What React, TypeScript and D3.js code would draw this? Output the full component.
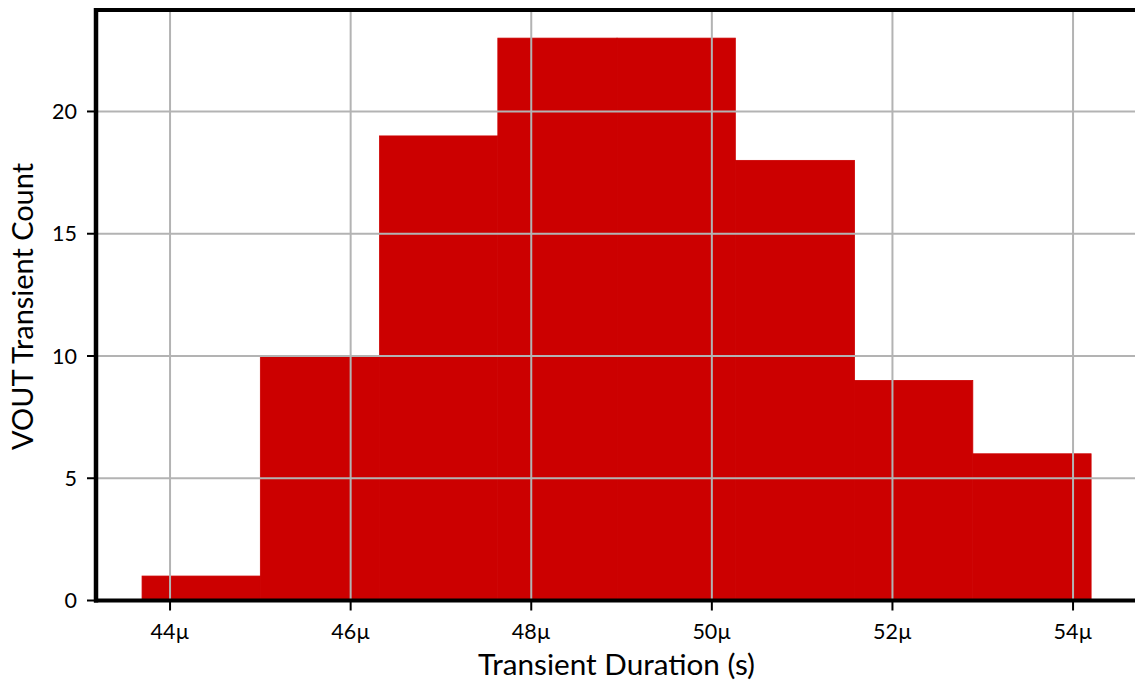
import React from "react";
import * as d3 from "d3";

const binEdges = [43.69, 45.0, 46.32, 47.63, 48.95, 50.26, 51.58, 52.89, 54.2];
const binCounts = [1, 10, 19, 23, 23, 18, 9, 6];
const xTicks = [44, 46, 48, 50, 52, 54];
const yTicks = [0, 5, 10, 15, 20];
const xLabel = "Transient Duration (s)";
const yLabel = "VOUT Transient Count";

const W = 1135;
const H = 686;
const FONT = "Lato, 'Noto Sans', sans-serif";

export default function App() {
  const left = 96, right = 1148, top = 10, bottom = 600.5;
  const x = d3.scaleLinear().domain([43.18, 54.83]).range([left, right]);
  const y = d3.scaleLinear().domain([0, 24.15]).range([bottom, top]);
  const bins = binCounts.map((c, i) => ({ x0: binEdges[i], x1: binEdges[i + 1], c }));
  const grid = "#b3b3b3";
  return (
    <svg width={W} height={H} style={{ position: "fixed", left: 0, top: 0, background: "#fff" }}>
      <rect x={0} y={0} width={W} height={H} fill="#fff" />
      {bins.map((b, i) => (
        <rect key={i} x={x(b.x0)} y={y(b.c)} width={x(b.x1) - x(b.x0)} height={y(0) - y(b.c)} fill="#cc0000" stroke="#cc0000" strokeWidth={0.8} />
      ))}
      {xTicks.map((t) => (
        <line key={"gx" + t} x1={x(t)} x2={x(t)} y1={top} y2={bottom} stroke={grid} strokeWidth={2} />
      ))}
      {yTicks.map((t) => (
        <line key={"gy" + t} x1={left} x2={W} y1={y(t)} y2={y(t)} stroke={grid} strokeWidth={2} />
      ))}
      <line x1={left - 2} x2={W} y1={top} y2={top} stroke="#000" strokeWidth={4} />
      <line x1={left - 2} x2={W} y1={bottom} y2={bottom} stroke="#000" strokeWidth={4} />
      <line x1={left} x2={left} y1={top - 2} y2={bottom + 2} stroke="#000" strokeWidth={4.5} />
      {yTicks.map((t) => (
        <g key={"ty" + t}>
          <line x1={left - 9} x2={left} y1={y(t)} y2={y(t)} stroke="#000" strokeWidth={2} />
          <text x={77} y={y(t)} dy="0.36em" textAnchor="end" fontFamily={FONT} fontSize={21.5} fill="#000">{t}</text>
        </g>
      ))}
      {xTicks.map((t) => (
        <g key={"tx" + t}>
          <line x1={x(t)} x2={x(t)} y1={bottom} y2={bottom + 10} stroke="#000" strokeWidth={2} />
          <text x={x(t)} y={639} textAnchor="middle" fontFamily={FONT} fontSize={21.5} fill="#000">{t}µ</text>
        </g>
      ))}
      <text x={616.5} y={675} textAnchor="middle" fontFamily={FONT} fontSize={28} fill="#000" textLength={277} lengthAdjust="spacingAndGlyphs">{xLabel}</text>
      <text transform={`translate(33,${(163 + 450) / 2}) rotate(-90)`} textAnchor="middle" fontFamily={FONT} fontSize={28} fill="#000" textLength={287} lengthAdjust="spacingAndGlyphs">{yLabel}</text>
    </svg>
  );
}
